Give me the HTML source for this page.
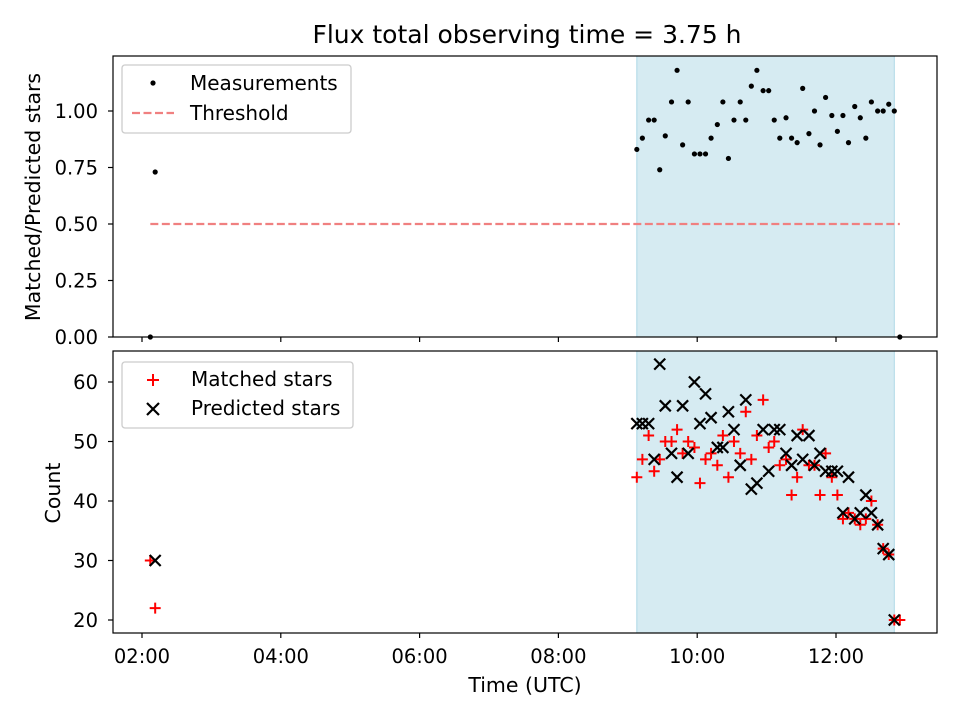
<!DOCTYPE html>
<html><head><meta charset="utf-8"><style>
body{margin:0;background:#fff}
svg{display:block;font-family:"DejaVu Sans","Liberation Sans",sans-serif}
</style></head><body>
<svg id="c" width="960" height="720"></svg>
<script>
const T = [9.13,9.21,9.30,9.38,9.46,9.54,9.63,9.71,9.79,9.87,9.96,10.04,10.12,10.20,10.29,10.37,10.45,10.53,10.62,10.70,10.78,10.86,10.95,11.03,11.11,11.19,11.28,11.36,11.44,11.52,11.61,11.69,11.77,11.85,11.94,12.02,12.10,12.18,12.27,12.35,12.43,12.51,12.60,12.68,12.76,12.84];
const ratioTimes = [2.12,2.19].concat(T,[12.92]);
const ratioValues = [0.0,0.73,0.83,0.88,0.96,0.96,0.74,0.89,1.04,1.18,0.85,1.04,0.81,0.81,0.81,0.88,0.94,1.04,0.79,0.96,1.04,0.96,1.11,1.18,1.09,1.09,0.96,0.88,0.97,0.88,0.86,1.10,0.90,1.00,0.85,1.06,0.98,0.91,0.98,0.86,1.02,0.97,0.88,1.04,1.00,1.00,1.03,1.00,0.0];
const matchedTimes = [2.12,2.19].concat(T,[12.92]);
const matchedValues = [30,22,44,47,51,45,47,50,50,52,48,50,49,43,47,48,46,51,44,50,48,55,47,51,57,49,50,46,47,41,44,52,46,46,41,48,44,41,37,38,37,36,37,40,36,32,31,20,20];
const predictedTimes = [2.19].concat(T);
const predictedValues = [30,53,53,53,47,63,56,48,44,56,48,60,53,58,54,49,49,55,52,46,57,42,43,52,45,52,52,48,46,51,47,51,46,48,45,45,45,38,44,37,38,41,38,36,32,31,20];
const threshold = 0.5, thrStart = 2.12, thrEnd = 12.92;
const shadeStart = 9.13, shadeEnd = 12.84;
const xTicks = [2,4,6,8,10,12];
const xTickLabels = ["02:00","04:00","06:00","08:00","10:00","12:00"];
const topTicks = [0,0.25,0.5,0.75,1.0];
const topTickLabels = ["0.00","0.25","0.50","0.75","1.00"];
const botTicks = [20,30,40,50,60];

const L=113,R=937;
const x = h => 142 + (h-2)*69.4;
const yTop = v => 337 - v*(226/1.0);
const yBot = v => 620 - (v-20)*(238/40);
const NS="http://www.w3.org/2000/svg";
const svg=document.getElementById('c');
function el(tag,attrs,name,parent){const e=document.createElementNS(NS,tag);for(const k in attrs)e.setAttribute(k,attrs[k]);


(parent||svg).appendChild(e);return e;}
function txt(s,attrs,name){const e=el('text',attrs,name);e.textContent=s;return e;}

txt("Flux total observing time = 3.75 h",{x:527,y:43,'font-size':25,'text-anchor':'middle'},'chart-title');

function panel(top,bot,yfn,ticks,labels,name){
  const g=el('g',{},name);
  el('rect',{x:x(shadeStart),y:top,width:x(shadeEnd)-x(shadeStart),height:bot-top,fill:'#add8e6','fill-opacity':0.5,stroke:'#add8e6'},'observing-window-shade',g);
  ticks.forEach((t,i)=>{const yy=yfn(t);
    el('line',{x1:L-5,x2:L,y1:yy,y2:yy,stroke:'#000','stroke-width':1.2},'y-tick',g);
    const e=el('text',{x:L-15,y:yy+7,'font-size':19.5,'text-anchor':'end'},'y-tick-label',g);e.textContent=labels[i];});
  xTicks.forEach(t=>el('line',{x1:x(t),x2:x(t),y1:bot,y2:bot+5,stroke:'#000','stroke-width':1.2},'x-tick',g));
  return g;
}
const gt=panel(56,337,yTop,topTicks,topTickLabels,'top-panel');
const gb=panel(351,633,yBot,botTicks,botTicks.map(String),'bottom-panel');

el('line',{x1:x(thrStart),x2:x(thrEnd),y1:yTop(threshold),y2:yTop(threshold),stroke:'#f08080','stroke-width':2.2,'stroke-dasharray':'8,3.5'},'threshold-line',gt);
ratioTimes.forEach((t,i)=>el('circle',{cx:x(t),cy:yTop(ratioValues[i]),r:2.6,fill:'#000'},'measurement-point',gt));

matchedTimes.forEach((t,i)=>{const cx=x(t),cy=yBot(matchedValues[i]);
  el('path',{d:`M${cx-5.5},${cy}H${cx+5.5}M${cx},${cy-5.5}V${cy+5.5}`,stroke:'#f00','stroke-width':2},'matched-star-marker',gb);});
predictedTimes.forEach((t,i)=>{const cx=x(t),cy=yBot(predictedValues[i]);
  el('path',{d:`M${cx-5.5},${cy-5.5}L${cx+5.5},${cy+5.5}M${cx-5.5},${cy+5.5}L${cx+5.5},${cy-5.5}`,stroke:'#000','stroke-width':2.2},'predicted-star-marker',gb);});

el('rect',{x:L,y:56,width:R-L,height:281,fill:'none',stroke:'#000','stroke-width':1.2},'top-axes-frame');
el('rect',{x:L,y:351,width:R-L,height:282,fill:'none',stroke:'#000','stroke-width':1.2},'bottom-axes-frame');

xTicks.forEach((t,i)=>txt(xTickLabels[i],{x:x(t),y:663,'font-size':19.5,'text-anchor':'middle'},'x-tick-label'));
txt("Time (UTC)",{x:525,y:692,'font-size':20.5,'text-anchor':'middle'},'x-axis-title');
txt("Matched/Predicted stars",{x:0,y:0,'font-size':20.5,'text-anchor':'middle',transform:'translate(40,197) rotate(-90)'},'top-y-axis-title');
txt("Count",{x:0,y:0,'font-size':20.5,'text-anchor':'middle',transform:'translate(60,493) rotate(-90)'},'bottom-y-axis-title');

// legends
const lg1=el('g',{},'top-legend');
el('rect',{x:122,y:65,width:229,height:68,rx:3,fill:'#fff','fill-opacity':0.85,stroke:'#ccc','stroke-width':1.3},'legend-box',lg1);
el('circle',{cx:153,cy:83,r:2.6,fill:'#000'},'legend-measurements-marker',lg1);
el('line',{x1:132,x2:174,y1:113,y2:113,stroke:'#f08080','stroke-width':2.2,'stroke-dasharray':'8,3.5'},'legend-threshold-marker',lg1);
let e=el('text',{x:190,y:90,'font-size':20,},'legend-measurements-label',lg1);e.textContent="Measurements";
e=el('text',{x:190,y:120,'font-size':20},'legend-threshold-label',lg1);e.textContent="Threshold";

const lg2=el('g',{},'bottom-legend');
el('rect',{x:122,y:362,width:231,height:66,rx:3,fill:'#fff','fill-opacity':0.85,stroke:'#ccc','stroke-width':1.3},'legend-box',lg2);
el('path',{d:'M147,380H159M153,374V386',stroke:'#f00','stroke-width':2},'legend-matched-marker',lg2);
el('path',{d:'M147,403L159,415M147,415L159,403',stroke:'#000','stroke-width':2.2},'legend-predicted-marker',lg2);
e=el('text',{x:191,y:386,'font-size':20},'legend-matched-label',lg2);e.textContent="Matched stars";
e=el('text',{x:191,y:415,'font-size':20},'legend-predicted-label',lg2);e.textContent="Predicted stars";
</script>
</body></html>
